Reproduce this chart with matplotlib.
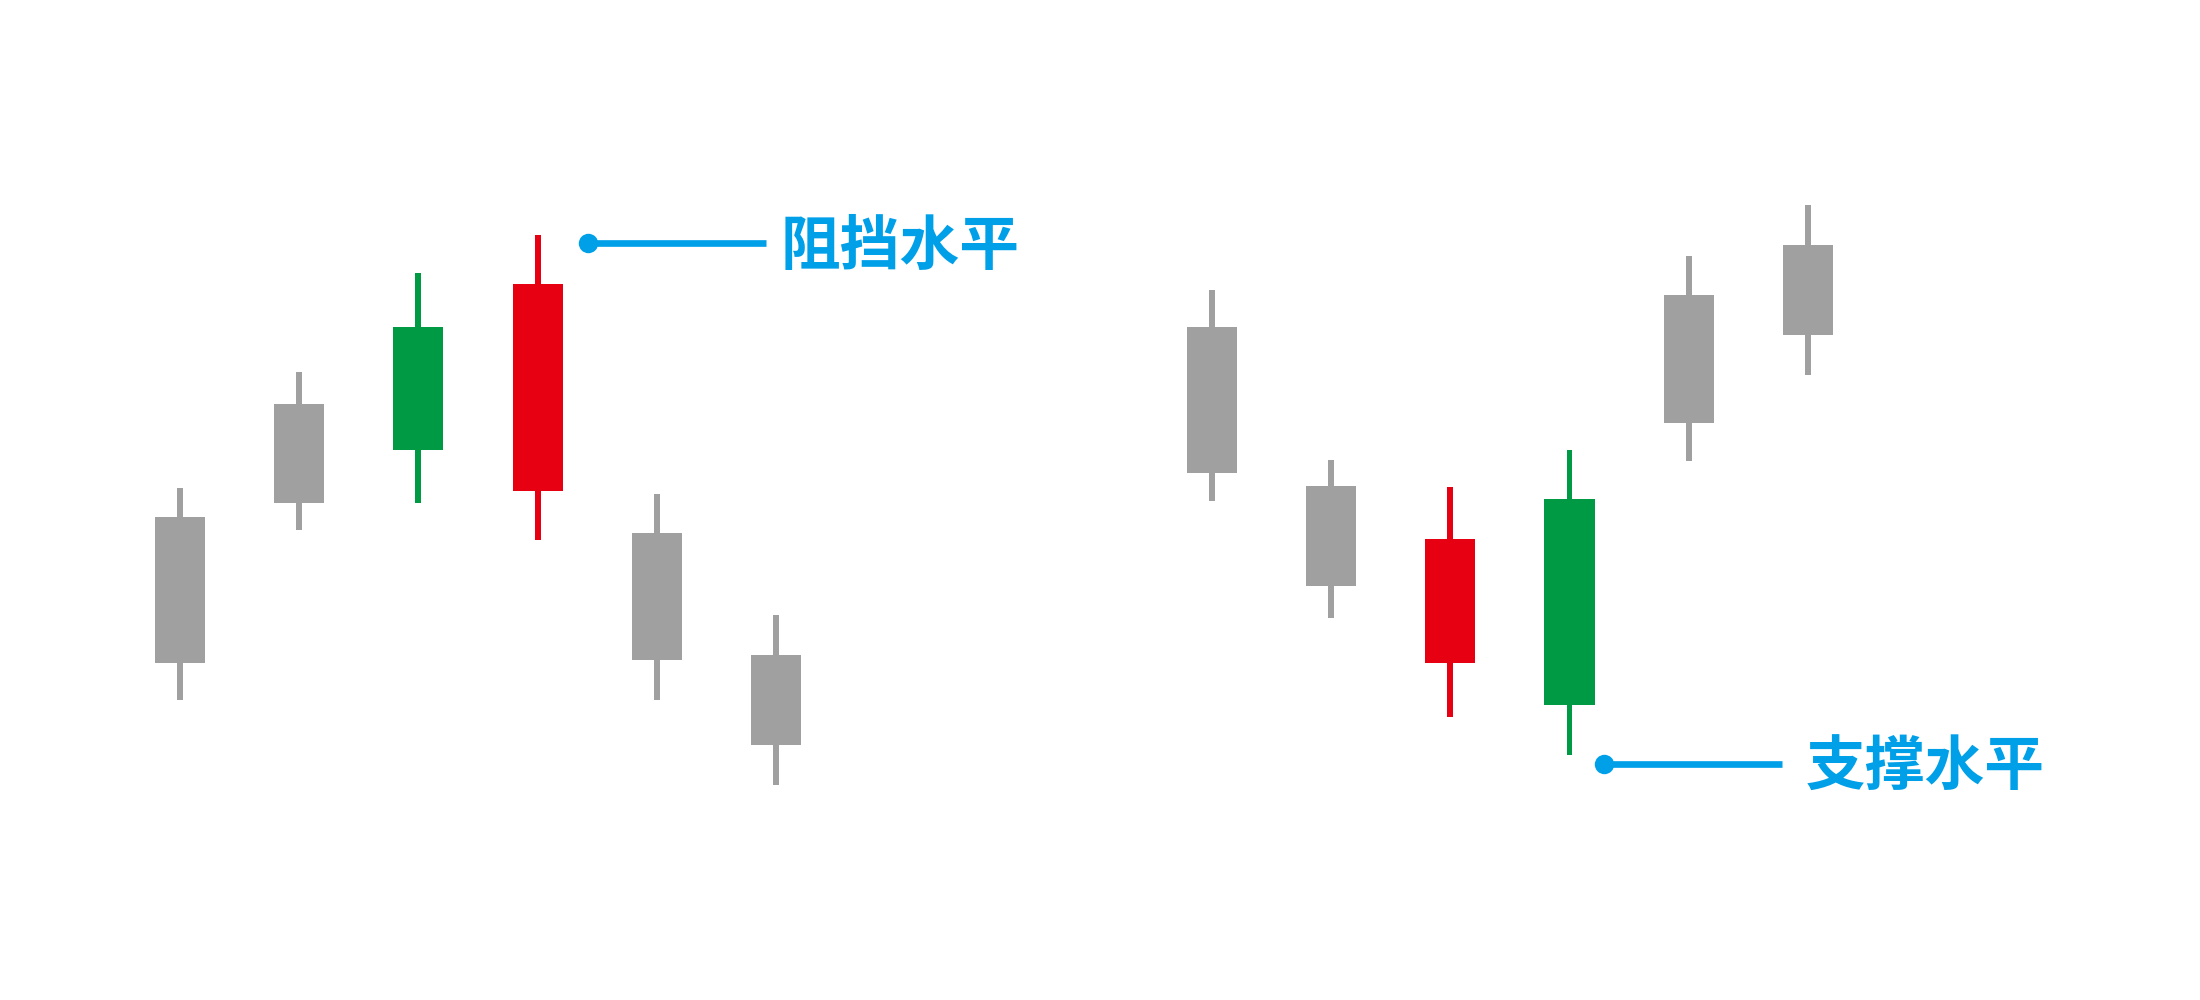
import matplotlib
matplotlib.use("Agg")
import matplotlib.pyplot as plt
import numpy as np

plt.rcParams['font.family'] = ['Noto Sans CJK SC', 'DejaVu Sans']

# ---- data ----
positions = [0, 1, 2, 3, 4, 5, 8.65, 9.65, 10.65, 11.65, 12.65, 13.65]
opens  = [33.7, 49.7, 55.0, 71.6, 46.7, 34.5, 67.3, 51.4, 46.1, 29.5, 57.7, 66.5]
closes = [48.3, 59.6, 67.3, 50.9, 34.0, 25.5, 52.7, 41.4, 33.7, 50.1, 70.5, 75.5]
highs  = [51.2, 62.8, 72.7, 76.5, 50.6, 38.5, 71.0, 54.0, 51.3, 55.0, 74.4, 79.5]
lows   = [30.0, 47.0, 49.7, 46.0, 30.0, 21.5, 49.9, 38.2, 28.3, 24.5, 53.9, 62.5]
kinds  = ['n', 'n', 'g', 'r', 'n', 'n', 'n', 'n', 'r', 'g', 'n', 'n']

resistance_label = "阻挡水平"
support_label = "支撑水平"
resistance_level = 75.7
support_level = 23.6

# ---- style ----
palette = {'n': '#A0A0A0', 'g': '#009944', 'r': '#E60012'}
blue = '#00A0E9'

fig = plt.figure(figsize=(22, 10), dpi=100)
ax = fig.add_axes([0, 0, 1, 1])
ax.set_xlim(-1.506, 16.935)
ax.set_ylim(0, 100)
ax.axis('off')

colors = [palette[k] for k in kinds]
x = np.array(positions)
o = np.array(opens); c = np.array(closes)
h = np.array(highs); l = np.array(lows)

ax.bar(x, h - l, bottom=l, width=0.05, color=colors, linewidth=0, zorder=1)
bottoms = np.minimum(o, c)
ax.bar(x, np.abs(c - o), bottom=bottoms, width=0.42, color=colors, linewidth=0, zorder=2)

# resistance annotation
ax.plot([3.42, 4.915], [resistance_level, resistance_level], color=blue, lw=4.8,
        solid_capstyle='butt', zorder=3)
ax.plot([3.42], [resistance_level], 'o', color=blue, ms=14, mew=0, zorder=3)
ax.text(5.04, resistance_level - 0.45, resistance_label, color=blue, fontsize=43,
        fontweight='heavy', ha='left', va='center')

# support annotation
ax.plot([11.937, 13.434], [support_level, support_level], color=blue, lw=4.8,
        solid_capstyle='butt', zorder=3)
ax.plot([11.937], [support_level], 'o', color=blue, ms=14, mew=0, zorder=3)
ax.text(13.63, support_level - 0.45, support_label, color=blue, fontsize=43,
        fontweight='heavy', ha='left', va='center')

fig.savefig('out.png', dpi=100, facecolor='white')
